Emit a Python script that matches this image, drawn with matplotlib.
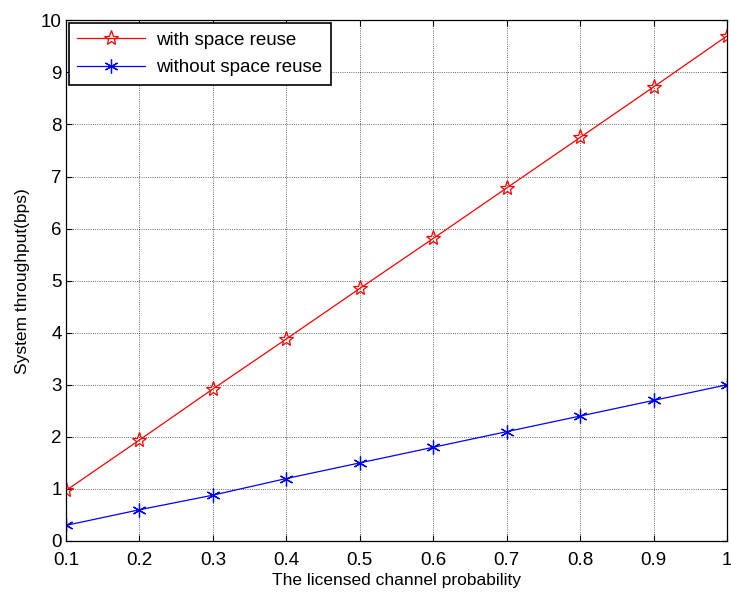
import matplotlib
matplotlib.use("Agg")
import matplotlib.pyplot as plt
import numpy as np

# licensed channel probability
prob = [0.1, 0.2, 0.3, 0.4, 0.5, 0.6, 0.7, 0.8, 0.9, 1.0]
with_reuse = [0.97, 1.94, 2.92, 3.88, 4.85, 5.81, 6.78, 7.75, 8.72, 9.70]
without_reuse = [0.30, 0.60, 0.88, 1.20, 1.50, 1.80, 2.10, 2.40, 2.70, 3.00]

plt.rcParams['font.family'] = ['Liberation Sans', 'DejaVu Sans']

fig = plt.figure(figsize=(7.31, 5.93), dpi=100)
ax = fig.add_axes([0.0903, 0.0877, 0.9042, 0.878])

ax.plot(prob, with_reuse, color='red', lw=0.9, marker='*', ms=11,
        mfc='none', mec='red', mew=0.9, label='with space reuse')
ax.plot(prob, without_reuse, color='blue', lw=0.9, marker=(6, 2, 0), ms=10,
        mec='blue', mew=0.9, label='without space reuse')

ax.set_xlim(0.1, 1.0)
ax.set_ylim(0, 10)
ax.set_xticks(prob)
ax.set_xticklabels(['0.1', '0.2', '0.3', '0.4', '0.5', '0.6', '0.7', '0.8', '0.9', '1'])
ax.set_yticks(range(0, 11))
ax.tick_params(direction='in', labelsize=13.5, top=True, right=True, length=4, width=0.8)
ax.tick_params(axis='x', pad=8)
ax.tick_params(axis='y', pad=3)
ax.grid(True, color='black', linestyle=':', linewidth=0.6, alpha=0.8)
for s in ax.spines.values():
    s.set_linewidth(0.9)

ax.set_xlabel('The licensed channel probability', fontsize=12.5, labelpad=3)
ax.set_ylabel('System throughput(bps)', fontsize=12.5, labelpad=8)

leg = ax.legend(loc='upper left', fontsize=13.5, fancybox=False, framealpha=1,
                edgecolor='black', borderaxespad=0.15, handlelength=3.6,
                borderpad=0.45, labelspacing=0.55, handletextpad=0.6)
leg.get_frame().set_linewidth(1.2)

fig.savefig('out.png', dpi=100)
